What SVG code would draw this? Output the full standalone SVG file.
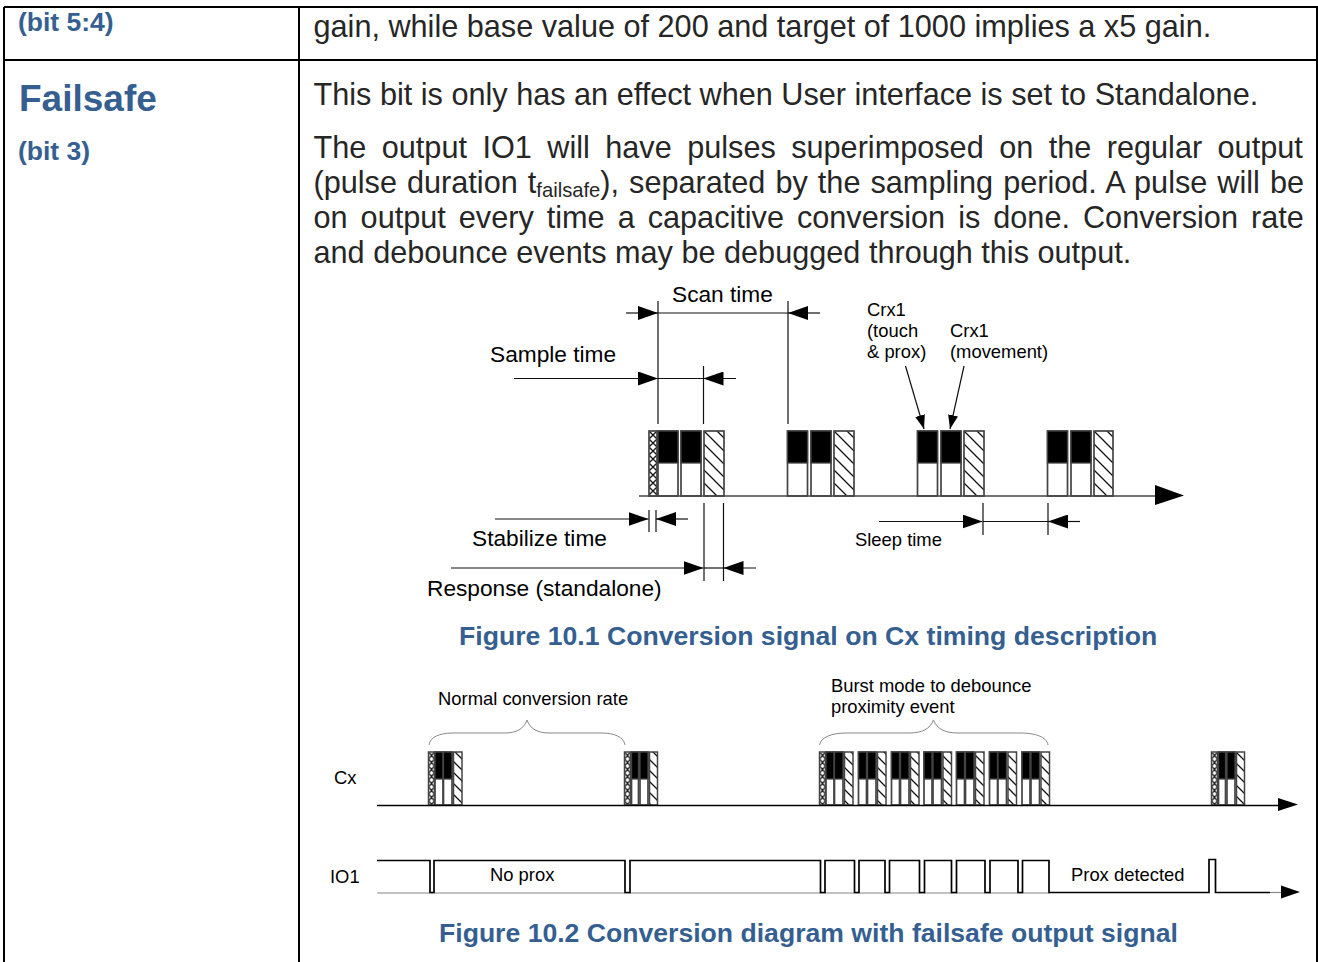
<svg xmlns="http://www.w3.org/2000/svg" width="1318" height="962" viewBox="0 0 1318 962">
<style>
text{font-family:"Liberation Sans",Arial,sans-serif}
.b{font-size:30.65px;fill:#262626}
.h{font-weight:bold;fill:#365f91}
.l{font-size:22.7px;fill:#000}
.s{font-size:18.4px;fill:#000}
.t{fill:none;stroke:#000;stroke-width:2}
.d{fill:none;stroke:#111;stroke-width:1.2}
.a{fill:none;stroke:#000;stroke-width:1.7}
.br{fill:none;stroke:#888;stroke-width:1}
.k{fill:#000;stroke:#444;stroke-width:1.3}
.w{fill:#fff;stroke:#444;stroke-width:1.7}
.hx{fill:url(#ha);stroke:#444;stroke-width:1.7}
.cx{fill:url(#cr);stroke:#444;stroke-width:1.7}
.hy{fill:url(#hb);stroke:#444;stroke-width:1.5}
.cy{fill:url(#crb);stroke:#444;stroke-width:1.5}
</style>
<defs>
<pattern id="ha" width="13" height="13" patternUnits="userSpaceOnUse"><rect width="13" height="13" fill="#fff"/><path d="M-2 -2L15 15M-2 11L2 15M11 -2L15 2" stroke="#111" stroke-width="1.3"/></pattern>
<pattern id="cr" width="1" height="0.123" patternUnits="objectBoundingBox"><rect width="8" height="8" fill="#fff"/><path d="M0 0L8 8M8 0L0 8" stroke="#111" stroke-width="1.3"/></pattern>
<pattern id="hb" width="11" height="11" patternUnits="userSpaceOnUse"><rect width="11" height="11" fill="#fff"/><path d="M-2 -2L13 13M-2 9L2 13M9 -2L13 2" stroke="#111" stroke-width="1.3"/></pattern>
<pattern id="crb" width="1" height="0.132" patternUnits="objectBoundingBox"><rect width="6" height="7" fill="#fff"/><path d="M0 0L6 7M6 0L0 7" stroke="#111" stroke-width="1.3"/></pattern>
<marker id="ah" markerUnits="userSpaceOnUse" markerWidth="20" markerHeight="14" refX="20" refY="7" orient="auto"><path d="M0 0L20 7L0 14Z" fill="#000"/></marker>
<marker id="ap" markerUnits="userSpaceOnUse" markerWidth="14" markerHeight="10" refX="14" refY="5" orient="auto"><path d="M0 0L14 5L0 10Z" fill="#000"/></marker>
</defs>

<g id="table">
<path class="t" d="M4 7H1317V962M4 7V962M299 7V962M4 60H1317"/>
</g>

<g id="cell-labels">
<text class="h" x="18" y="31" font-size="26.5">(bit 5:4)</text>
<text class="h" x="19" y="111" font-size="37">Failsafe</text>
<text class="h" x="18" y="160" font-size="26.5">(bit 3)</text>
</g>

<g id="cell-text">
<text class="b" x="313.500" y="37">gain, while base value of 200 and target of 1000 implies a x5 gain.</text>
<text class="b" x="313.500" y="105">This bit is only has an effect when User interface is set to Standalone.</text>
<text class="b" x="313.500" y="158" word-spacing="6.95">The output IO1 will have pulses superimposed on the regular output</text>
<text class="b" x="313.500" y="193" word-spacing="1.55">(pulse duration t<tspan font-size="20.2" dy="4">failsafe</tspan><tspan dy="-4">), separated by the sampling period. A pulse will be</tspan></text>
<text class="b" x="313.500" y="228" word-spacing="4.5">on output every time a capacitive conversion is done. Conversion rate</text>
<text class="b" x="313.500" y="263">and debounce events may be debugged through this output.</text>
</g>

<g id="fig1-connectors">
<path class="d" d="M658 301V424M788 301V424M658 366V424M703.500 366V424M649 510V532M656 510V532M704 503V581M723.500 503V581M983 503V535M1048 503V535"/>
<path class="d" d="M658 313H788"/>
<path class="d" d="M514 378.500H658" marker-end="url(#ah)"/><path class="d" d="M658 378.500H703.500"/><path class="d" d="M736 378.500H703.500" marker-end="url(#ah)"/>
<path class="d" d="M626 313H658" marker-end="url(#ah)"/><path class="d" d="M820 313H788" marker-end="url(#ah)"/>
<path class="d" d="M495 519H648.500" marker-end="url(#ah)"/><path class="d" d="M688 519H656" marker-end="url(#ah)"/>
<path class="d" d="M451 568H703.500" marker-end="url(#ah)"/><path class="d" d="M704 568H723.500"/><path class="d" d="M756 568H723.500" marker-end="url(#ah)"/>
<path class="d" d="M879 521.500H982.500" marker-end="url(#ah)"/><path class="d" d="M983 521.500H1048"/><path class="d" d="M1080 521.500H1048" marker-end="url(#ah)"/>
<path class="d" d="M905.500 366L924 429" marker-end="url(#ap)"/><path class="d" d="M964 366L950 429" marker-end="url(#ap)"/>
</g>

<g id="fig1-blocks">
<rect class="cx" x="649" y="431" width="8" height="65"/>
<g id="fig1-burst-1"><rect class="w" x="658" y="431" width="20" height="65"/><rect class="k" x="658" y="431" width="20" height="32"/><rect class="w" x="681" y="431" width="20" height="65"/><rect class="k" x="681" y="431" width="20" height="32"/><rect class="hx" x="704" y="431" width="20" height="65"/></g>
<g id="fig1-burst-2"><rect class="w" x="787.500" y="431" width="20" height="65"/><rect class="k" x="787.500" y="431" width="20" height="32"/><rect class="w" x="811" y="431" width="20" height="65"/><rect class="k" x="811" y="431" width="20" height="32"/><rect class="hx" x="834" y="431" width="20" height="65"/></g>
<g id="fig1-burst-3"><rect class="w" x="917.500" y="431" width="20" height="65"/><rect class="k" x="917.500" y="431" width="20" height="32"/><rect class="w" x="941" y="431" width="20" height="65"/><rect class="k" x="941" y="431" width="20" height="32"/><rect class="hx" x="964" y="431" width="20" height="65"/></g>
<g id="fig1-burst-4"><rect class="w" x="1047.500" y="431" width="20" height="65"/><rect class="k" x="1047.500" y="431" width="20" height="32"/><rect class="w" x="1071" y="431" width="20" height="65"/><rect class="k" x="1071" y="431" width="20" height="32"/><rect class="hx" x="1094" y="431" width="19" height="65"/></g>
</g>
<g id="fig1-axis"><path d="M639 496H1156" stroke="#444" stroke-width="1.6" fill="none"/><path d="M1155 485L1184 495.500L1155 505Z" fill="#000"/></g>

<g id="fig1-labels">
<text class="l" x="672" y="302">Scan time</text>
<text class="l" x="490" y="362">Sample time</text>
<text class="l" x="472" y="546">Stabilize time</text>
<text class="l" x="427" y="596">Response (standalone)</text>
<text class="s" x="867" y="316">Crx1</text>
<text class="s" x="867" y="337">(touch</text>
<text class="s" x="867" y="358">&amp; prox)</text>
<text class="s" x="950" y="337">Crx1</text>
<text class="s" x="950" y="358">(movement)</text>
<text class="s" x="855" y="546">Sleep time</text>
</g>
<text id="caption-1" class="h" x="459" y="645" font-size="26.63">Figure 10.1 Conversion signal on Cx timing description</text>

<g id="fig2-labels">
<text class="s" x="438" y="705">Normal conversion rate</text>
<text class="s" x="831" y="692">Burst mode to debounce</text>
<text class="s" x="831" y="713">proximity event</text>
<text class="s" x="334" y="784">Cx</text>
<text class="s" x="330" y="883">IO1</text>
<text class="s" x="490" y="881">No prox</text>
<text class="s" x="1071" y="881">Prox detected</text>
</g>

<g id="fig2-braces">
<path class="br" d="M429 745C430 737 440 733 452 733H505C516 733 524 729 527 720C530 729 538 733 549 733H602C614 733 624 737 625 745"/>
<path class="br" d="M819.500 745C821 737 832 733 846 733H909C922 733 930 729 933.500 720C937 729 945 733 958 733H1021C1035 733 1047 737 1048 745"/>
</g>

<g id="fig2-blocks">
<g id="fig2-burst-1"><rect class="cy" x="428.500" y="752" width="6" height="53"/><rect class="w" x="435" y="752" width="8" height="53"/><rect class="k" x="435" y="752" width="8" height="27"/><rect class="w" x="443.500" y="752" width="8.500" height="53"/><rect class="k" x="443.500" y="752" width="8.500" height="27"/><rect class="hy" x="453.500" y="752" width="8.500" height="53"/></g>
<g id="fig2-burst-2"><rect class="cy" x="624.500" y="752" width="6" height="53"/><rect class="w" x="631.500" y="752" width="7" height="53"/><rect class="k" x="631.500" y="752" width="7" height="27"/><rect class="w" x="640" y="752" width="8" height="53"/><rect class="k" x="640" y="752" width="8" height="27"/><rect class="hy" x="649.500" y="752" width="8" height="53"/></g>
<g id="fig2-burst-3"><rect class="cy" x="819.500" y="752" width="6" height="53"/><rect class="w" x="826" y="752" width="8" height="53"/><rect class="k" x="826" y="752" width="8" height="27"/><rect class="w" x="834.500" y="752" width="8.500" height="53"/><rect class="k" x="834.500" y="752" width="8.500" height="27"/><rect class="hy" x="844.500" y="752" width="8.500" height="53"/></g>
<g id="fig2-burst-4"><rect class="w" x="858.500" y="752" width="8" height="53"/><rect class="k" x="858.500" y="752" width="8" height="27"/><rect class="w" x="867.500" y="752" width="8.500" height="53"/><rect class="k" x="867.500" y="752" width="8.500" height="27"/><rect class="hy" x="877.500" y="752" width="8.500" height="53"/></g>
<g id="fig2-burst-5"><rect class="w" x="891.500" y="752" width="8" height="53"/><rect class="k" x="891.500" y="752" width="8" height="27"/><rect class="w" x="900.500" y="752" width="8.500" height="53"/><rect class="k" x="900.500" y="752" width="8.500" height="27"/><rect class="hy" x="910.500" y="752" width="8.500" height="53"/></g>
<g id="fig2-burst-6"><rect class="w" x="924" y="752" width="8" height="53"/><rect class="k" x="924" y="752" width="8" height="27"/><rect class="w" x="933" y="752" width="8.500" height="53"/><rect class="k" x="933" y="752" width="8.500" height="27"/><rect class="hy" x="943" y="752" width="8.500" height="53"/></g>
<g id="fig2-burst-7"><rect class="w" x="956.500" y="752" width="8" height="53"/><rect class="k" x="956.500" y="752" width="8" height="27"/><rect class="w" x="965.500" y="752" width="8.500" height="53"/><rect class="k" x="965.500" y="752" width="8.500" height="27"/><rect class="hy" x="975.500" y="752" width="8.500" height="53"/></g>
<g id="fig2-burst-8"><rect class="w" x="989.500" y="752" width="8" height="53"/><rect class="k" x="989.500" y="752" width="8" height="27"/><rect class="w" x="998" y="752" width="8.500" height="53"/><rect class="k" x="998" y="752" width="8.500" height="27"/><rect class="hy" x="1008" y="752" width="8.500" height="53"/></g>
<g id="fig2-burst-9"><rect class="w" x="1022" y="752" width="8" height="53"/><rect class="k" x="1022" y="752" width="8" height="27"/><rect class="w" x="1031" y="752" width="8.500" height="53"/><rect class="k" x="1031" y="752" width="8.500" height="27"/><rect class="hy" x="1041" y="752" width="8.500" height="53"/></g>
<g id="fig2-burst-10"><rect class="cy" x="1211.500" y="752" width="6" height="53"/><rect class="w" x="1218.500" y="752" width="7" height="53"/><rect class="k" x="1218.500" y="752" width="7" height="27"/><rect class="w" x="1227" y="752" width="8" height="53"/><rect class="k" x="1227" y="752" width="8" height="27"/><rect class="hy" x="1236.500" y="752" width="8" height="53"/></g>
</g>

<g id="fig2-connectors">
<path d="M377 805.500H1279" stroke="#000" stroke-width="1.3" fill="none"/><path d="M1278 798L1298 804.500L1278 811Z" fill="#000"/>
<path d="M377 893H1050" stroke="#888" stroke-width="1.2" fill="none"/>
<path class="a" d="M377 860.500H430V892.500H434V860.500H625V892.500H630V860.500H820.500V892.500H825V860.500H854.500V892.500H859V860.500H885V892.500H889.500V860.500H919.500V892.500H924.500V860.500H951.500V892.500H956.500V860.500H985V892.500H990V860.500H1018V892.500H1022.500V860.500H1049V892.500H1209V859.500H1215.500V892.500H1270"/>
<path d="M1270 892.500H1283" stroke="#888" stroke-width="1.2" fill="none"/><path d="M1281 885.500L1300 892L1281 898.500Z" fill="#000"/>
</g>
<text id="caption-2" class="h" x="439" y="942" font-size="26.6">Figure 10.2 Conversion diagram with failsafe output signal</text>
</svg>
